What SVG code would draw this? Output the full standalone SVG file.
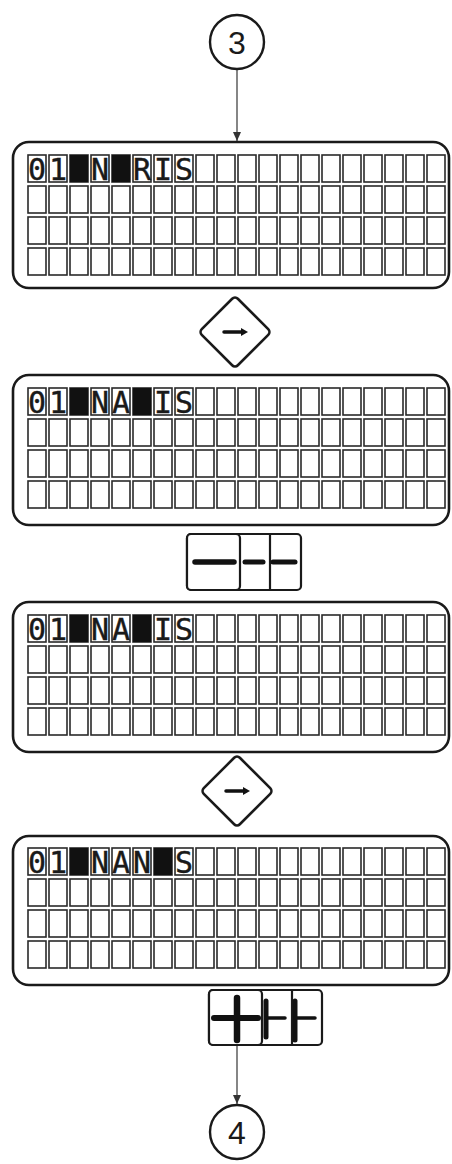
<svg xmlns="http://www.w3.org/2000/svg" xmlns:xlink="http://www.w3.org/1999/xlink" width="452" height="1164" viewBox="0 0 452 1164">
<style>
.bg{fill:#fff}
.disp{fill:#fff;stroke:#1a1a1a;stroke-width:2.6}
.cell{fill:none;stroke:#2a2a2a;stroke-width:1.6}
.blk{fill:#111}
.lcd{font-family:"DejaVu Sans Mono","Liberation Mono",monospace;font-size:30px;fill:#1a1a1a;text-anchor:middle;stroke:#1a1a1a;stroke-width:0.4}
.circ{fill:#fff;stroke:#1a1a1a;stroke-width:2.4}
.num{font-family:"Liberation Sans",Arial,sans-serif;font-size:32px;fill:#1a1a1a;text-anchor:middle}
.key{fill:#fff;stroke:#1a1a1a;stroke-width:2.2}
.bar{stroke:#111;stroke-linecap:round;fill:none}
.dia{fill:#fff;stroke:#1a1a1a;stroke-width:2.6}
.conn{stroke:#444;stroke-width:1.3;fill:none}
</style>
<defs>
<marker id="ah" markerUnits="userSpaceOnUse" markerWidth="9" markerHeight="8" refX="9" refY="4" orient="auto" viewBox="0 0 9 8">
<path d="M0,0 L9,4 L0,8 Z" fill="#333"/>
</marker>
<marker id="ar" markerUnits="userSpaceOnUse" markerWidth="7" markerHeight="8" refX="0" refY="4" orient="auto" viewBox="0 0 7 8">
<path d="M0,0 L7,4 L0,8 Z" fill="#111"/>
</marker>
<rect id="c" class="cell" width="18" height="27"/>
<g id="row">
<use xlink:href="#c" x="0"/><use xlink:href="#c" x="21"/><use xlink:href="#c" x="42"/><use xlink:href="#c" x="63"/><use xlink:href="#c" x="84"/>
<use xlink:href="#c" x="105"/><use xlink:href="#c" x="126"/><use xlink:href="#c" x="147"/><use xlink:href="#c" x="168"/><use xlink:href="#c" x="189"/>
<use xlink:href="#c" x="210"/><use xlink:href="#c" x="231"/><use xlink:href="#c" x="252"/><use xlink:href="#c" x="273"/><use xlink:href="#c" x="294"/>
<use xlink:href="#c" x="315"/><use xlink:href="#c" x="336"/><use xlink:href="#c" x="357"/><use xlink:href="#c" x="378"/><use xlink:href="#c" x="399"/>
</g>
<g id="grid">
<use xlink:href="#row" y="0"/><use xlink:href="#row" y="31"/><use xlink:href="#row" y="62"/><use xlink:href="#row" y="93"/>
</g>
<rect id="dshape" class="dia" x="-25.5" y="-25.5" width="51" height="51" rx="4"/>
</defs>
<rect class="bg" width="452" height="1164"/>

<g id="connectors">
<line class="conn" x1="237" y1="70" x2="237" y2="141" marker-end="url(#ah)"/>
<line class="conn" x1="237" y1="1046" x2="237" y2="1104" marker-end="url(#ah)"/>
</g>

<g id="circle3">
<circle class="circ" cx="237" cy="42" r="27"/>
<text class="num" x="237" y="54">3</text>
</g>

<g id="display1">
<rect class="disp" x="13" y="142" width="436" height="146" rx="16"/>
<use xlink:href="#grid" x="28" y="155"/>
<rect class="blk" x="70" y="155" width="18" height="27"/>
<rect class="blk" x="112" y="155" width="18" height="27"/>
<text class="lcd" x="37 58 100 142 163 184" y="180">01NRIS</text>
</g>

<g id="key-right1">
<use xlink:href="#dshape" transform="translate(235,332) rotate(45)"/>
<line class="bar" x1="224" y1="332" x2="241" y2="332" stroke-width="3.5" stroke-linecap="butt" marker-end="url(#ar)"/>
</g>

<g id="display2">
<rect class="disp" x="13" y="375" width="436" height="150" rx="16"/>
<use xlink:href="#grid" x="28" y="388"/>
<rect class="blk" x="70" y="388" width="18" height="27"/>
<rect class="blk" x="133" y="388" width="18" height="27"/>
<text class="lcd" x="37 58 100 121 163 184" y="413">01NAIS</text>
</g>

<g id="key-minus">
<rect class="key" x="187" y="534" width="114" height="56" rx="4"/>
<rect class="key" x="187" y="534" width="53" height="56" rx="4"/>
<line class="key" x1="270" y1="534" x2="270" y2="590"/>
<line class="bar" x1="195" y1="562" x2="234" y2="562" stroke-width="5.5"/>
<line class="bar" x1="245" y1="562" x2="263" y2="562" stroke-width="5"/>
<line class="bar" x1="273" y1="562" x2="295" y2="562" stroke-width="5"/>
</g>

<g id="display3">
<rect class="disp" x="13" y="602" width="436" height="150" rx="16"/>
<use xlink:href="#grid" x="28" y="615"/>
<rect class="blk" x="70" y="615" width="18" height="27"/>
<rect class="blk" x="133" y="615" width="18" height="27"/>
<text class="lcd" x="37 58 100 121 163 184" y="640">01NAIS</text>
</g>

<g id="key-right2">
<use xlink:href="#dshape" transform="translate(237,791) rotate(45)"/>
<line class="bar" x1="226" y1="791" x2="243" y2="791" stroke-width="3.5" stroke-linecap="butt" marker-end="url(#ar)"/>
</g>

<g id="display4">
<rect class="disp" x="13" y="836" width="436" height="149" rx="16"/>
<use xlink:href="#grid" x="28" y="848"/>
<rect class="blk" x="70" y="848" width="18" height="27"/>
<rect class="blk" x="154" y="848" width="18" height="27"/>
<text class="lcd" x="37 58 100 121 142 184" y="873">01NANS</text>
</g>

<g id="key-plus">
<rect class="key" x="209" y="990" width="113" height="55" rx="4"/>
<rect class="key" x="209" y="990" width="53" height="55" rx="4"/>
<line class="key" x1="292" y1="990" x2="292" y2="1045"/>
<line class="bar" x1="237" y1="998" x2="237" y2="1040" stroke-width="6.5"/>
<line class="bar" x1="214" y1="1018" x2="258" y2="1018" stroke-width="6"/>
<line class="bar" x1="266" y1="1001" x2="266" y2="1037" stroke-width="5"/>
<line class="bar" x1="266" y1="1018" x2="285" y2="1018" stroke-width="3.5"/>
<line class="bar" x1="295" y1="1001" x2="295" y2="1040" stroke-width="5"/>
<line class="bar" x1="295" y1="1018" x2="315" y2="1018" stroke-width="3.5"/>
</g>

<g id="circle4">
<circle class="circ" cx="237" cy="1132" r="27"/>
<text class="num" x="237" y="1144">4</text>
</g>
</svg>
